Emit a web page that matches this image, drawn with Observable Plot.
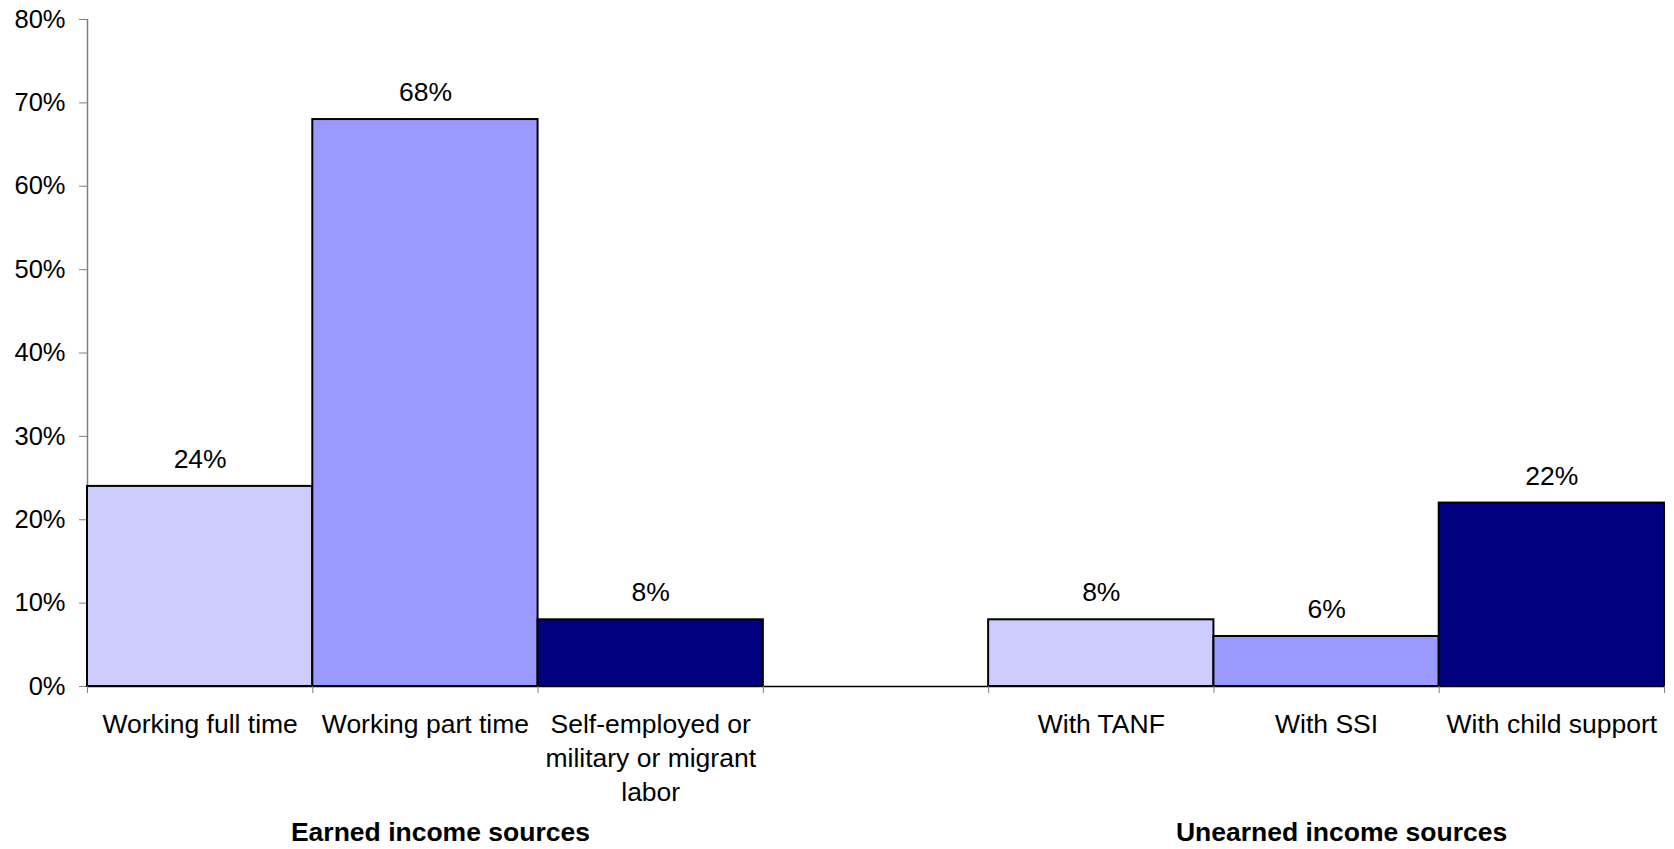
<!DOCTYPE html>
<html>
<head>
<meta charset="utf-8">
<script src="https://cdn.jsdelivr.net/npm/d3@7"></script>
<script src="https://cdn.jsdelivr.net/npm/@observablehq/plot@0.6"></script>
<style>
  html, body { margin: 0; padding: 0; background: #fff; }
  #chart svg { display: block; }
</style>
</head>
<body>
<div id="chart"></div>
<script>
// Data
const categories = [
  "Working full time",
  "Working part time",
  "Self-employed or\nmilitary or migrant\nlabor",
  "",
  "With TANF",
  "With SSI",
  "With child support"
];
const values = [24, 68, 8, null, 8, 6, 22];
const shades = ["light", "mid", "dark", null, "light", "mid", "dark"];
const groupNames = ["Earned income sources", "Unearned income sources"];
const groupFirst = [0, 4];
const groupLast = [2, 6];
const yTicks = [0, 10, 20, 30, 40, 50, 60, 70, 80];

const shadeDomain = ["light", "mid", "dark"];
const shadeColors = ["#CCCCFF", "#9999FF", "#000080"];

const rows = categories.map((c, i) => ({i, c, v: values[i], s: shades[i]}));
const bars = rows.filter(d => d.v != null);
const groups = groupNames.map((name, k) => ({name, mid: (groupFirst[k] + groupLast[k] + 1) / 2}));

const font = "'Liberation Sans', Arial, sans-serif";

const chart = Plot.plot({
  width: 1674,
  height: 849,
  marginLeft: 87,
  marginRight: 10,
  marginTop: 19,
  marginBottom: 163,
  style: {fontFamily: font, fontSize: "26px", color: "#000", background: "#fff"},
  x: {domain: [0, categories.length], axis: null},
  y: {domain: [0, 80], axis: null},
  color: {domain: shadeDomain, range: shadeColors},
  marks: [
    Plot.axisY({ticks: yTicks, tickFormat: d => d + "%", tickSize: 8, tickPadding: 14, fontSize: 25.5, label: null, stroke: "#808080"}),
    Plot.ruleX([0], {stroke: "#808080", strokeWidth: 1.5}),
    Plot.rectY(bars, {x1: d => d.i, x2: d => d.i + 1, y: "v", fill: "s", stroke: "#000", strokeWidth: 2}),
    Plot.ruleY([0], {stroke: "#000", strokeWidth: 1.5}),
    Plot.axisX({ticks: d3.range(categories.length + 1), tickFormat: () => "", tickSize: 7, stroke: "#808080", label: null}),
    Plot.text(bars, {x: d => d.i + 0.5, y: "v", text: d => d.v + "%", dy: -27, fontSize: 26.5, fill: "#000"}),
    Plot.text(rows, {x: d => d.i + 0.5, y: 0, text: "c", lineAnchor: "top", dy: 23, fontSize: 26.5, lineHeight: 1.27, fill: "#000"}),
    Plot.text(groups, {x: "mid", y: 0, text: "name", lineAnchor: "top", dy: 136, dx: 15, fontSize: 26.5, fontWeight: "bold", fill: "#000"})
  ]
});
document.getElementById("chart").appendChild(chart);
</script>
</body>
</html>
